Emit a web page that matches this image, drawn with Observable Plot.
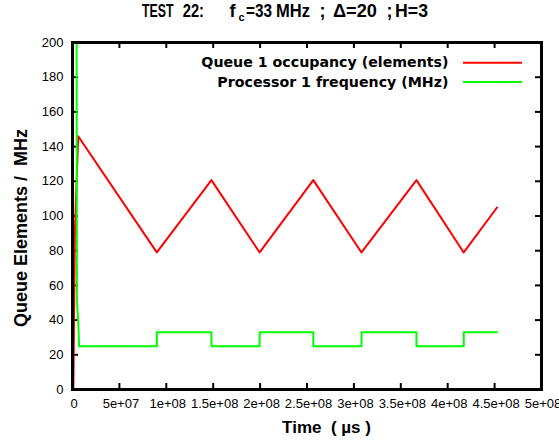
<!DOCTYPE html>
<html><head><meta charset="utf-8">
<script src="https://cdn.jsdelivr.net/npm/d3@7"></script>
<script src="https://cdn.jsdelivr.net/npm/@observablehq/plot@0.6"></script>
<style>
body{margin:0;background:#fff}
svg text{white-space:pre}
</style>
</head><body><div id="chart"></div>
<script>
// ---- data (time in µs) ----
const queueTime  = [0.9e6, 2.6e6, 6.1e6, 89.9e6, 148.1e6, 199.5e6, 256.7e6, 308.1e6, 366.7e6, 417.1e6, 452.6e6];
const queueValue = [0, 92, 146, 79, 120.7, 79, 120.7, 79, 120.7, 79, 104.9];

const freqTransientTime  = [4.4e6, 4.7e6, 6.1e6, 7.1e6];
const freqTransientValue = [200, 51, 39, 25];

const freqStepTime  = [7.1e6, 89.9e6, 148.1e6, 199.5e6, 256.7e6, 308.1e6, 366.7e6, 417.1e6, 452.6e6];
const freqStepValue = [25, 33, 25, 33, 25, 33, 25, 33, 33];

const xTicks = [0, 5e7, 1e8, 1.5e8, 2e8, 2.5e8, 3e8, 3.5e8, 4e8, 4.5e8, 5e8];
const yTicks = [0, 20, 40, 60, 80, 100, 120, 140, 160, 180, 200];

const seriesNames = ["Queue 1 occupancy (elements)", "Processor 1 frequency (MHz)"];
const seriesColors = ["#ff0000", "#00ff00"];

const xLabel = "Time  ( \u00b5s )";
const yLabel = "Queue Elements /  MHz";

// ---- tables ----
const queue = queueTime.map((t, i) => ({t, v: queueValue[i]}));
const freqTransient = freqTransientTime.map((t, i) => ({t, v: freqTransientValue[i]}));
const freqStep = freqStepTime.map((t, i) => ({t, v: freqStepValue[i]}));

const fmt = d => d === 0 ? "0" : d.toExponential().replace(/e([+-])(\d)$/, "e$10$2");

const W = 559, H = 441, mL = 72, mR = 18, mT = 42, mB = 52;
const innerW = W - mL - mR, innerH = H - mT - mB;
const innerX = xTicks.slice(1, -1), innerY = yTicks.slice(1, -1);

const plot = Plot.plot({
  width: W, height: H,
  marginLeft: mL, marginRight: mR, marginTop: mT, marginBottom: mB,
  style: {fontFamily: "'Liberation Sans', Arial, sans-serif", fontSize: "13px", background: "white", color: "black"},
  x: {domain: [0, 5e8]},
  y: {domain: [0, 200]},
  marks: [
    Plot.axisX({ticks: xTicks, tickSize: 0, tickPadding: 9, tickFormat: fmt, fontSize: 13, label: null, dx: 1.5}),
    Plot.axisY({ticks: yTicks, tickSize: 0, tickPadding: 9, fontSize: 13, label: null}),
    Plot.ruleX(innerX, {insetTop: innerH - 6, strokeWidth: 2, stroke: "black"}),
    Plot.ruleX(innerX, {insetBottom: innerH - 6, strokeWidth: 2, stroke: "black"}),
    Plot.ruleY(innerY, {insetRight: innerW - 6, strokeWidth: 2, stroke: "black"}),
    Plot.ruleY(innerY, {insetLeft: innerW - 6, strokeWidth: 2, stroke: "black"}),
    Plot.line(queue, {x: "t", y: "v", stroke: seriesColors[0], strokeWidth: 2}),
    Plot.line(freqTransient, {x: "t", y: "v", stroke: seriesColors[1], strokeWidth: 2}),
    Plot.line(freqStep, {x: "t", y: "v", stroke: seriesColors[1], strokeWidth: 2, curve: "step-after"}),
    Plot.frame({strokeWidth: 3, stroke: "black"}),
    Plot.text([yLabel], {frameAnchor: "left", rotate: -90, dx: -51, dy: 12, fontSize: 18, fontWeight: "bold", textAnchor: "middle"}),
    Plot.text([xLabel], {frameAnchor: "bottom", dx: 19.5, dy: 43, lineAnchor: "bottom", fontSize: 17, fontWeight: "bold", textAnchor: "middle"}),
    Plot.text([seriesNames[0]], {frameAnchor: "top-right", dx: -93, dy: 24.7, lineAnchor: "bottom", textAnchor: "end", fontSize: 14.2, fontWeight: "bold", fontFamily: "'DejaVu Sans', sans-serif"}),
    Plot.text([seriesNames[1]], {frameAnchor: "top-right", dx: -93, dy: 44, lineAnchor: "bottom", textAnchor: "end", fontSize: 14.2, fontWeight: "bold", fontFamily: "'DejaVu Sans', sans-serif"})
  ]
});

const svg = d3.select(plot);
// legend sample lines
[62.7, 82].forEach((y, i) => {
  svg.append("line").attr("x1", 463).attr("x2", 522).attr("y1", y).attr("y2", y)
    .attr("stroke", seriesColors[i]).attr("stroke-width", 2);
});
// title with subscript: one text element per word
const titleSegments = [
  {text: "TEST", x: 142, w: 31.5},
  {text: "22:", x: 182.7, w: 21.3},
  {text: "f", x: 229.5},
  {text: "c", x: 238.5, sub: true},
  {text: "=33", x: 246, w: 26},
  {text: "MHz", x: 276, w: 34},
  {text: ";", x: 319.5},
  {text: "\u0394=20", x: 333, w: 44},
  {text: ";", x: 386.5},
  {text: "H=3", x: 395, w: 33}
];
const titleG = svg.append("g")
  .attr("font-family", "'Liberation Sans Narrow', 'Liberation Sans', Arial, sans-serif")
  .attr("font-weight", "bold").attr("fill", "black").attr("text-anchor", "start");
titleSegments.forEach(s => {
  const t = titleG.append("text").attr("x", s.x).attr("y", s.sub ? 21 : 17.3)
    .attr("text-anchor", "start")
    .attr("font-size", s.sub ? 11 : 18).text(s.text);
  if (s.w) t.attr("textLength", s.w).attr("lengthAdjust", "spacingAndGlyphs");
});

document.getElementById("chart").appendChild(plot);
</script>
</body></html>
